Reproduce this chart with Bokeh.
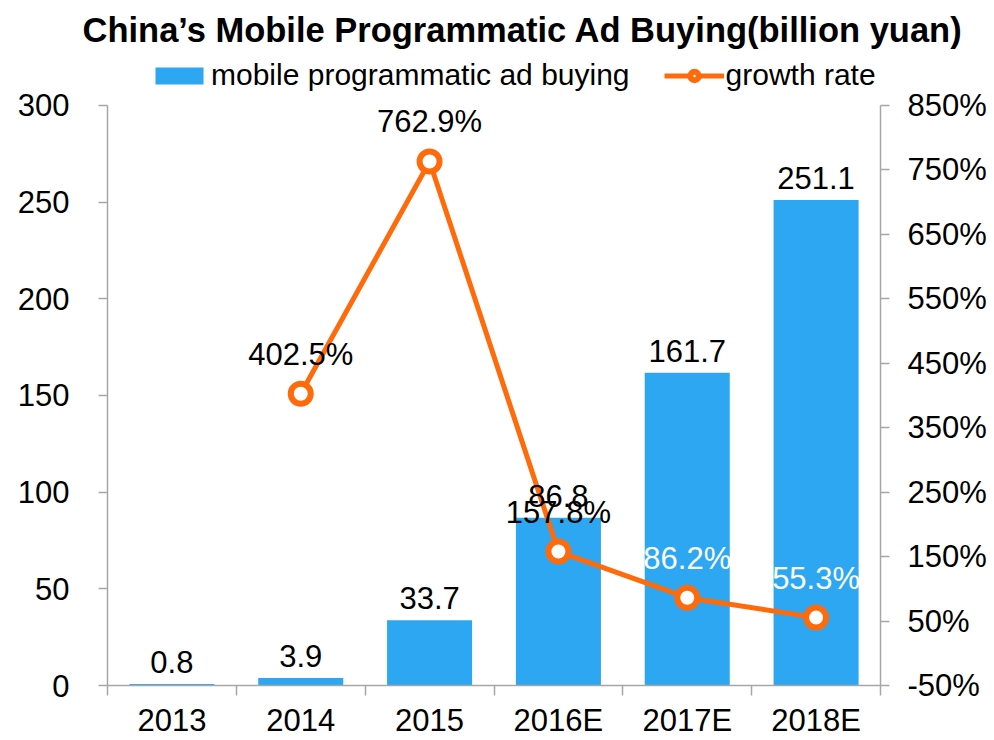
from bokeh.plotting import figure
from bokeh.models import (Range1d, LinearAxis, FixedTicker, PrintfTickFormatter,
                          ColumnDataSource, LabelSet, Title, Legend, LegendItem)
from bokeh.core.properties import value
from bokeh.embed import file_html
from bokeh.resources import INLINE

# ---- data ----
years = ["2013", "2014", "2015", "2016E", "2017E", "2018E"]
buying = [0.8, 3.9, 33.7, 86.8, 161.7, 251.1]          # billion yuan
growth_years = ["2014", "2015", "2016E", "2017E", "2018E"]
growth = [402.5, 762.9, 157.8, 86.2, 55.3]            # %
left_ticks = [0, 50, 100, 150, 200, 250, 300]
right_ticks = [-50, 50, 150, 250, 350, 450, 550, 650, 750, 850]

# ---- styles / layout ----
FONT = "Liberation Sans"
FS = "31px"
BLUE = "#2EA7F2"
ORANGE = "#FF6A0A"
AXIS = "#A6A6A6"
growth_label_colors = ["black", "black", "black", "white", "white"]

FRAME_TOP = 55          # frame extends above the axes to hold the legend
AXES_TOP = 105          # pixel where 300 / 850% sit
AXES_BOTTOM = 687
HEAD = AXES_TOP - FRAME_TOP
LMIN, LMAX = left_ticks[0], left_ticks[-1]
RMIN, RMAX = right_ticks[0], right_ticks[-1]
l_top = LMAX + HEAD * (LMAX - LMIN) / (AXES_BOTTOM - AXES_TOP)
r_top = RMAX + HEAD * (RMAX - RMIN) / (AXES_BOTTOM - AXES_TOP)

xpos = {y: i + 0.5 for i, y in enumerate(years)}

p = figure(width=994, height=740, output_backend="svg", toolbar_location=None,
           title=None, x_range=Range1d(0, len(years)), y_range=Range1d(LMIN, l_top),
           min_border_left=107, min_border_right=114, min_border_top=FRAME_TOP,
           min_border_bottom=740 - AXES_BOTTOM, outline_line_color=None,
           y_axis_location=None, x_axis_location=None)
p.grid.visible = False
p.extra_y_ranges = {"g": Range1d(RMIN, r_top)}

# bottom axis: labels at centres, ticks at category boundaries
xa = LinearAxis(ticker=FixedTicker(ticks=[xpos[y] for y in years],
                                   minor_ticks=list(range(len(years) + 1))))
xa.major_label_overrides = {xpos[y]: y for y in years}
xa.major_tick_out = 0
xa.major_tick_in = 0
xa.minor_tick_out = 10
xa.minor_tick_in = 0
xa.major_label_standoff = 7
p.add_layout(xa, "below")

ya = LinearAxis(ticker=FixedTicker(ticks=left_ticks, minor_ticks=[]), bounds=(LMIN, LMAX))
ya.major_tick_out = 9
ya.major_tick_in = 0
ya.minor_tick_out = 0
ya.major_label_standoff = 29
p.add_layout(ya, "left")

yr = LinearAxis(y_range_name="g", ticker=FixedTicker(ticks=right_ticks, minor_ticks=[]),
                formatter=PrintfTickFormatter(format="%d%%"), bounds=(RMIN, RMAX))
yr.major_tick_out = 9
yr.major_tick_in = 0
yr.minor_tick_out = 0
yr.major_label_standoff = 18
p.add_layout(yr, "right")

for ax in (xa, ya, yr):
    ax.axis_line_color = AXIS
    ax.axis_line_width = 1.5
    ax.major_tick_line_color = AXIS
    ax.minor_tick_line_color = AXIS
    ax.major_tick_line_width = 1.5
    ax.minor_tick_line_width = 1.5
    ax.major_label_text_font = FONT
    ax.major_label_text_font_size = FS
    ax.major_label_text_color = "black"

# bars
bsrc = ColumnDataSource(dict(x=[xpos[y] for y in years], top=buying,
                             lab=[f"{v:.1f}" for v in buying]))
bars = p.vbar(x="x", top="top", width=0.66, source=bsrc, fill_color=BLUE, line_color=None)
p.add_layout(LabelSet(x="x", y="top", text="lab", source=bsrc, y_offset=11,
                      text_align="center", text_baseline="alphabetic",
                      text_font=value(FONT), text_font_size=value(FS),
                      text_color="black"))

# growth line
gsrc = ColumnDataSource(dict(x=[xpos[y] for y in growth_years], g=growth,
                             lab=[f"{v:.1f}%" for v in growth], col=growth_label_colors))
line = p.line(x="x", y="g", source=gsrc, y_range_name="g", line_color=ORANGE, line_width=5)
pts = p.scatter(x="x", y="g", source=gsrc, y_range_name="g", marker="circle", size=20,
                fill_color="white", line_color=ORANGE, line_width=6)
p.add_layout(LabelSet(x="x", y="g", text="lab", source=gsrc, y_range_name="g", y_offset=29,
                      text_align="center", text_baseline="alphabetic",
                      text_font=value(FONT), text_font_size=value(FS), text_color="col"))

# legend (inside the frame's head room, above the axes)
legend = Legend(items=[LegendItem(label="mobile programmatic ad buying", renderers=[bars]),
                       LegendItem(label="growth rate", renderers=[line, pts])],
                orientation="horizontal", location=(42, AXES_BOTTOM - 94),
                glyph_width=60, glyph_height=21, label_standoff=2, spacing=34,
                padding=0, margin=0, border_line_alpha=0, background_fill_alpha=0,
                label_text_font=FONT, label_text_font_size="30px", label_height=21,
                label_text_color="black")
p.add_layout(legend)

# title
title = Title(text="China\u2019s Mobile Programmatic Ad Buying(billion yuan)",
              align="left", offset=-25, standoff=14,
              text_font=FONT, text_font_style="bold", text_font_size="34.5px",
              text_color="black")
p.add_layout(title, "above")

open("out.html", "w").write(file_html(p, INLINE))
